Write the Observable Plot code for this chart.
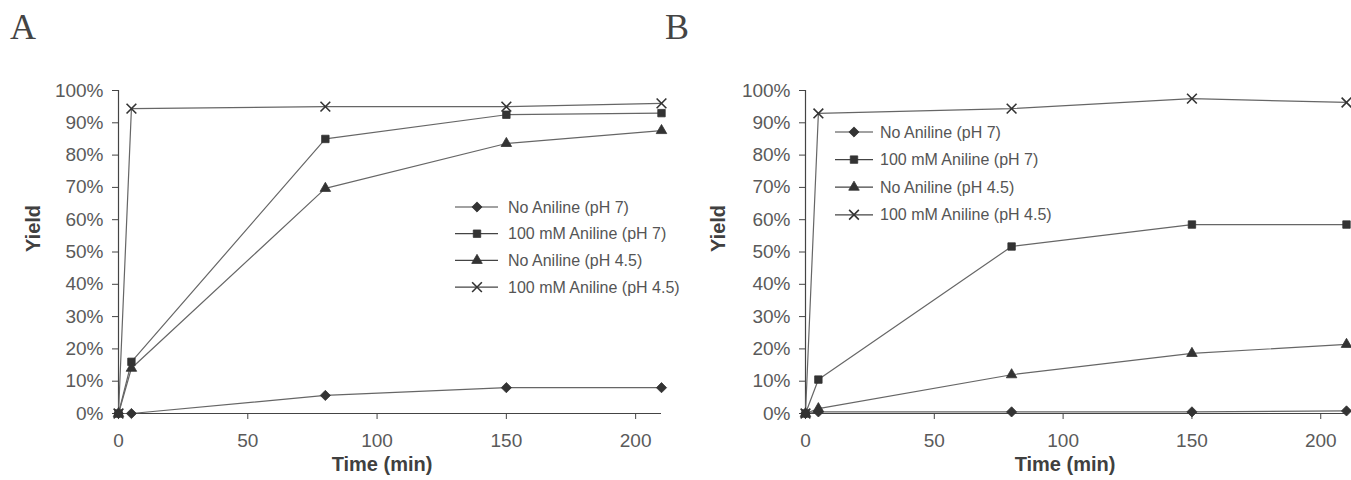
<!DOCTYPE html>
<html>
<head>
<meta charset="utf-8">
<script src="https://cdn.jsdelivr.net/npm/d3@7"></script>
<script src="https://cdn.jsdelivr.net/npm/@observablehq/plot@0.6"></script>
<style>
  html, body { margin: 0; padding: 0; background: #fff; }
  #chart { position: relative; width: 1351px; height: 480px; background: #fff; overflow: hidden; font-family: "Liberation Sans", Arial, sans-serif; }
  .panel { position: absolute; top: 0; }
  .letter { position: absolute; top: 9px; line-height: 1; font-family: "Liberation Serif", "DejaVu Serif", serif; font-size: 36px; color: #444; }
  #legend { position: absolute; left: 0; top: 0; pointer-events: none; }
</style>
</head>
<body>
<div id="chart"></div>
<script>
// ---- Data ----
const times = [0, 5, 80, 150, 210];               // minutes
const seriesLabels = [
  "No Aniline (pH 7)",
  "100 mM Aniline (pH 7)",
  "No Aniline (pH 4.5)",
  "100 mM Aniline (pH 4.5)"
];
const xTicks = [0, 50, 100, 150, 200];
const yTicks = [0, 10, 20, 30, 40, 50, 60, 70, 80, 90, 100]; // percent

// Panel A yields (%)
const a_noAniline_pH7  = [0, 0, 5.6, 8.0, 8.0];
const a_aniline_pH7    = [0, 16.0, 85.0, 92.5, 93.0];
const a_noAniline_pH45 = [0, 14.0, 69.7, 83.6, 87.6];
const a_aniline_pH45   = [0, 94.4, 95.0, 95.0, 96.0];

// Panel B yields (%)
const b_noAniline_pH7  = [0, 0.5, 0.5, 0.5, 0.8];
const b_aniline_pH7    = [0, 10.5, 51.7, 58.5, 58.5];
const b_noAniline_pH45 = [0, 1.5, 12.0, 18.6, 21.4];
const b_aniline_pH45   = [0, 92.9, 94.4, 97.5, 96.3];

// ---- Styles ----
const symbols = ["diamond2", "square", "triangle", "times"];
const symbolR = [4.6, 4.2, 3.9, 4.5];
const markColor = "#333";
const lineColor = "#666";
const fontFamily = "'Liberation Sans', Arial, sans-serif";

function buildRows(seriesValues) {
  return seriesLabels.flatMap((s, i) =>
    times.map((t, j) => ({ series: s, idx: i, time: t, yield: seriesValues[i][j] / 100 }))
  );
}

function panel(seriesValues, o) {
  const rows = buildRows(seriesValues);
  const dotMarks = seriesLabels.map((s, i) => {
    const isStroke = symbols[i] === "times";
    return Plot.dot(rows.filter(d => d.idx === i), {
      x: "time", y: "yield",
      symbol: () => symbols[i],
      r: symbolR[i],
      fill: isStroke ? "none" : markColor,
      stroke: markColor,
      strokeWidth: isStroke ? 1.6 : 0.8
    });
  });
  return Plot.plot({
    width: o.width, height: 480,
    marginTop: 90, marginBottom: 67, marginLeft: o.ml, marginRight: o.mr,
    style: { overflow: "visible", background: "transparent", fontFamily },
    x: { domain: [0, 210] },
    y: { domain: [0, 1] },
    symbol: { type: "identity" },
    marks: [
      Plot.axisY({
        ticks: yTicks.map(v => v / 100),
        tickFormat: d => `${Math.round(d * 100)}%`,
        tickSize: 6, tickPadding: 9, fontSize: 19,
        fill: "#5a5a5a", stroke: "#444", label: null
      }),
      Plot.axisX({
        ticks: xTicks, tickFormat: d => `${d}`,
        tickSize: 6, tickPadding: 14, fontSize: 19,
        fill: "#5a5a5a", stroke: "#444", label: null
      }),
      Plot.ruleX([0], { stroke: "#444", strokeWidth: 1.2 }),
      Plot.ruleY([0], { stroke: "#444", strokeWidth: 1.2 }),
      Plot.line(rows, { x: "time", y: "yield", z: "series", stroke: lineColor, strokeWidth: 1.2 }),
      ...dotMarks,
      Plot.text(["Yield"], {
        frameAnchor: "left", dx: o.yLabelDx, rotate: -90,
        fontSize: 20, fontWeight: "bold", fill: "#404040"
      }),
      Plot.text(["Time (min)"], {
        frameAnchor: "bottom", dy: 57, dx: o.xLabelDx,
        fontSize: 20, fontWeight: "bold", fill: "#404040"
      })
    ]
  });
}

const chart = document.getElementById("chart");

const pA = panel([a_noAniline_pH7, a_aniline_pH7, a_noAniline_pH45, a_aniline_pH45],
  { width: 675, ml: 118, mr: 14, yLabelDx: -85, xLabelDx: -8 });
pA.classList.add("panel"); pA.style.left = "0px";
chart.appendChild(pA);

const pB = panel([b_noAniline_pH7, b_aniline_pH7, b_noAniline_pH45, b_aniline_pH45],
  { width: 676, ml: 130, mr: 5, yLabelDx: -87, xLabelDx: -11 });
pB.classList.add("panel"); pB.style.left = "675px";
chart.appendChild(pB);

// Panel letters
[["A", 10], ["B", 665]].forEach(([t, left]) => {
  const d = document.createElement("div");
  d.className = "letter"; d.textContent = t; d.style.left = left + "px";
  chart.appendChild(d);
});

// Legends (overlay)
const legendLayouts = [
  { x0: 455, x1: 498, xm: 477, xt: 508, y0: 207, dy: 26.7 },
  { x0: 835, x1: 873, xm: 854, xt: 880, y0: 132, dy: 27.6 }
];
const svg = d3.select(chart).append("svg").attr("id", "legend")
  .attr("width", 1351).attr("height", 480);
const symbolFns = { diamond2: d3.symbolDiamond2, square: d3.symbolSquare, triangle: d3.symbolTriangle, times: d3.symbolTimes };
legendLayouts.forEach(L => {
  seriesLabels.forEach((s, i) => {
    const y = L.y0 + i * L.dy;
    const g = svg.append("g");
    g.append("line").attr("x1", L.x0).attr("x2", L.x1).attr("y1", y).attr("y2", y)
      .attr("stroke", "#444").attr("stroke-width", 1.2);
    const isStroke = symbols[i] === "times";
    g.append("path")
      .attr("d", d3.symbol(symbolFns[symbols[i]], symbolR[i] * symbolR[i] * Math.PI)())
      .attr("transform", `translate(${L.xm},${y})`)
      .attr("fill", isStroke ? "none" : markColor)
      .attr("stroke", markColor)
      .attr("stroke-width", isStroke ? 1.6 : 0.8);
    g.append("text").attr("x", L.xt).attr("y", y).attr("dy", "0.35em")
      .attr("font-family", fontFamily).attr("font-size", 16)
      .attr("fill", "#555").text(s);
  });
});
</script>
</body>
</html>
